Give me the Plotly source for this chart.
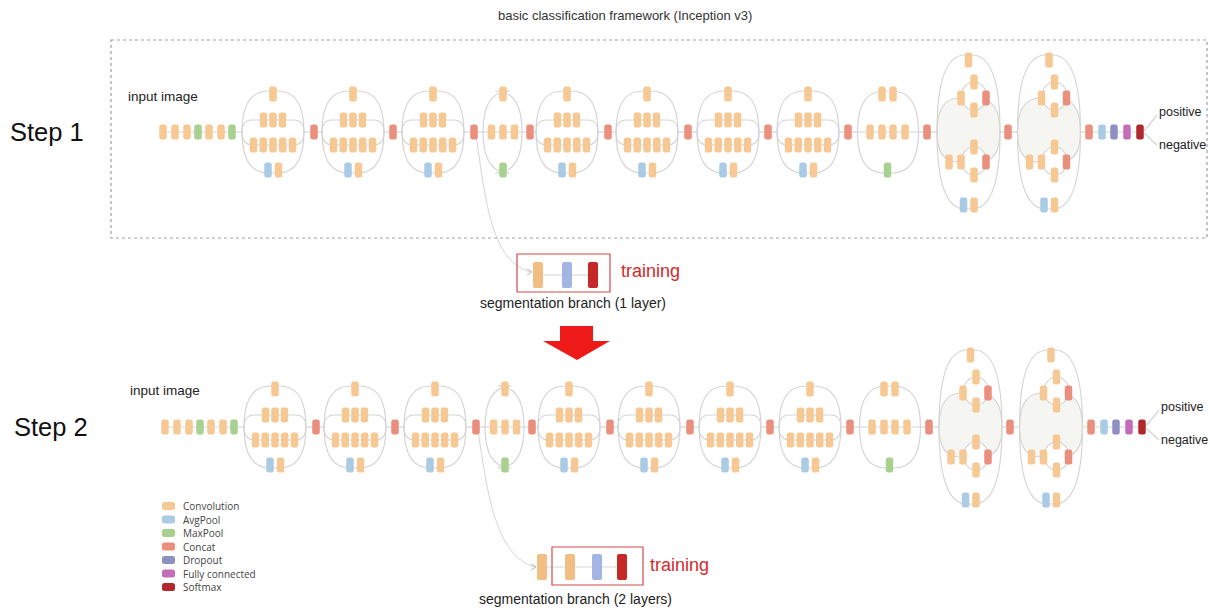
import plotly.graph_objects as go

# ---------------- data ----------------
legend_labels = ["Convolution", "AvgPool", "MaxPool", "Concat", "Dropout", "Fully connected", "Softmax"]
legend_keys = ["C", "A", "M", "K", "D", "F", "S"]
colors = {"C": "#F5C894", "A": "#A9CBE4", "M": "#A8D08F", "K": "#EA8E7D",
          "D": "#8E90C3", "F": "#C36DB9", "S": "#B0282C",
          "B": "#A3B5E2", "R": "#C62828", "O": "#F2BE84"}

input_chain = ["C", "C", "C", "M", "C", "C", "M"]
input_x = [163, 175, 187, 198, 209, 221, 232]

module_types = ["A", "A", "A", "B", "A", "A", "A", "A", "C", "D", "D"]
module_cx = [273, 353, 433, 503, 567, 647, 728, 808, 887.5, 968.5, 1049]
concat_x = [314, 393, 474, 530, 608, 688, 768, 848, 927, 1008]
final_chain = ["K", "A", "D", "F", "S"]
final_x = [1089, 1102, 1114, 1127, 1140]
outputs = ["positive", "negative"]

steps = ["Step 1", "Step 2"]
step_yc = [132, 427]
step_dx = [0, 2]

seg_branch1 = ["O", "B", "R"]
seg_branch1_x = [538, 567, 593]
seg_branch2 = ["O", "O", "B", "R"]
seg_branch2_x = [542, 570, 597, 622]

# module templates: blocks (dx, dy, kind), branch dy, left/right extent
TEMPLATES = {
    "A": dict(blocks=[(0, -38, "C"),
                      (-9.5, -12, "C"), (0, -12, "C"), (9.5, -12, "C"),
                      (-19.5, 13, "C"), (-9.75, 13, "C"), (0, 13, "C"), (9.75, 13, "C"), (19.5, 13, "C"),
                      (-5, 38, "A"), (5.5, 38, "C")],
              branches=[-41, -12, 13, 41], xl=-31, xr=31),
    "B": dict(blocks=[(0, -38, "C"), (-11.5, 0, "C"), (0, 0, "C"), (11.5, 0, "C"), (0, 38, "M")],
              branches=[-41, 0, 41], xl=-20, xr=19),
    "C": dict(blocks=[(-5.5, -38, "C"), (5.5, -38, "C"),
                      (-17.5, 0, "C"), (-5.5, 0, "C"), (5.5, 0, "C"), (17.5, 0, "C"),
                      (0, 38, "M")],
              branches=[-41, 0, 41], xl=-30, xr=31),
    "D": dict(blocks=[(0, -72, "C"),
                      (5.5, -50, "C"), (-7.5, -34, "C"), (17.5, -34, "K"), (5.5, -22, "C"),
                      (5.5, 15, "C"), (-19.5, 30, "C"), (-7.5, 30, "C"), (17.5, 30, "K"), (5.5, 43, "C"),
                      (-5, 73, "A"), (5.5, 73, "C")],
              branches=[-77, 77], xl=-31.5, xr=31.5),
}

LINE = "#D5D5D5"
shapes_lines = []
shapes_blocks = []


def rr(cx, cy, w, h, r, fill):
    x0, x1, y0, y1 = cx - w / 2, cx + w / 2, cy - h / 2, cy + h / 2
    p = (f"M{x0 + r},{y0} L{x1 - r},{y0} Q{x1},{y0} {x1},{y0 + r} L{x1},{y1 - r} "
         f"Q{x1},{y1} {x1 - r},{y1} L{x0 + r},{y1} Q{x0},{y1} {x0},{y1 - r} "
         f"L{x0},{y0 + r} Q{x0},{y0} {x0 + r},{y0} Z")
    return dict(type="path", path=p, fillcolor=fill, line=dict(width=0), layer="above")


def block(cx, cy, kind):
    shapes_blocks.append(rr(cx, cy, 7.5, 15, 2.5, colors[kind]))


def line_path(p, width=1.2, color=LINE):
    shapes_lines.append(dict(type="path", path=p, line=dict(color=color, width=width)))


def branch(xl, xr, yc, yb):
    dy = abs(yb - yc)
    if dy < 0.5:
        line_path(f"M{xl},{yc} L{xr},{yc}")
        return
    d = min(28, 0.55 * dy + 4)
    line_path(f"M{xl},{yc} Q{xl},{yb} {xl + d},{yb} L{xr - d},{yb} Q{xr},{yb} {xr},{yc}")


for si, (yc, ox) in enumerate(zip(step_yc, step_dx)):
    for k, x in zip(input_chain, input_x):
        block(x + ox, yc, k)
    prev_x = input_x[0] + ox
    for t, cx in zip(module_types, module_cx):
        tp = TEMPLATES[t]
        line_path(f"M{prev_x},{yc} L{cx + ox + tp['xl']},{yc}")
        prev_x = cx + ox + tp["xr"]
    line_path(f"M{prev_x},{yc} L{final_x[-1] + ox},{yc}")
    for t, cx in zip(module_types, module_cx):
        tp = TEMPLATES[t]
        c = cx + ox
        xl, xr = c + tp["xl"], c + tp["xr"]
        if t == "D":
            du, dl = -34, 30
            d1 = 0.55 * abs(du) + 4
            d2 = 0.55 * abs(dl) + 4
            fillp = (f"M{xl},{yc} Q{xl},{yc + du} {xl + d1},{yc + du} L{xr - d1},{yc + du} "
                     f"Q{xr},{yc + du} {xr},{yc} Q{xr},{yc + dl} {xr - d2},{yc + dl} "
                     f"L{xl + d2},{yc + dl} Q{xl},{yc + dl} {xl},{yc} Z")
            shapes_lines.append(dict(type="path", path=fillp, fillcolor="#F5F5F1",
                                     line=dict(width=0), layer="below"))
            for dv, dd, lx in [(du, d1, c - 7.5), (dl, d2, c - 19.5)]:
                line_path(f"M{xl},{yc} Q{xl},{yc + dv} {xl + dd},{yc + dv} L{max(lx, xl + dd)},{yc + dv}")
                line_path(f"M{c + 17.5},{yc + dv} L{xr - dd},{yc + dv} Q{xr},{yc + dv} {xr},{yc}")
            for ecy, ery in [(-36, 14), (29, 14)]:
                shapes_lines.append(dict(type="circle", x0=c - 7, x1=c + 18, y0=yc + ecy - ery,
                                         y1=yc + ecy + ery, fillcolor="white",
                                         line=dict(color=LINE, width=1.2)))
        for yb in tp["branches"]:
            branch(xl, xr, yc, yc + yb)
        for bx, by, k in tp["blocks"]:
            block(c + bx, yc + by, k)
    for x in concat_x:
        block(x + ox, yc, "K")
    for k, x in zip(final_chain, final_x):
        block(x + ox, yc, k)
    fx = final_x[-1] + ox + 4
    line_path(f"M{fx},{yc - 1} L{fx + 13},{yc - 17}")
    line_path(f"M{fx},{yc + 1} L{fx + 13},{yc + 13}")

# segmentation branch curves
line_path("M476,135 C486,205 492,262 531,272", width=1)
line_path("M527,269 L532,272 L527,275", width=1, color="#BBBBBB")
line_path("M478,430 C488,500 497,556 535,567", width=1)
line_path("M531,564 L536,567 L531,570", width=1, color="#BBBBBB")

# segmentation branch 1
line_path(f"M{seg_branch1_x[0]},{275} L{seg_branch1_x[-1]},{275}", width=1)
for k, x in zip(seg_branch1, seg_branch1_x):
    shapes_blocks.append(rr(x, 275, 10, 26, 2, colors[k]))
shapes_blocks.append(dict(type="rect", x0=517, x1=610, y0=254, y1=292,
                          line=dict(color="#D24A4A", width=1.2)))
# segmentation branch 2
line_path(f"M{seg_branch2_x[0]},{567} L{seg_branch2_x[-1]},{567}", width=1)
for k, x in zip(seg_branch2, seg_branch2_x):
    shapes_blocks.append(rr(x, 567, 10, 26, 2, colors[k]))
shapes_blocks.append(dict(type="rect", x0=552, x1=643, y0=547, y1=585,
                          line=dict(color="#D24A4A", width=1.2)))

# big red arrow
shapes_blocks.append(dict(type="path",
                          path="M560,326 L593,326 L593,341 L610,341 L577,360 L543,341 L560,341 Z",
                          fillcolor="#EE1A1A", line=dict(width=0)))

# frame
shapes_lines.append(dict(type="rect", x0=111, x1=1207, y0=40, y1=238,
                         line=dict(color="#A0A0A0", width=1.2, dash="dot")))

# legend
legend_y0 = 506
for i, (lab, k) in enumerate(zip(legend_labels, legend_keys)):
    y = legend_y0 + i * 13.5
    shapes_blocks.append(rr(168.5, y, 13, 8, 2.5, colors[k]))

FONT = "Liberation Sans, Arial, sans-serif"
ann = []


def text(x, y, s, size, color="#222", xanchor="left", font=FONT):
    ann.append(dict(x=x, y=y, xref="x", yref="y", text=s, showarrow=False,
                    xanchor=xanchor, yanchor="middle", font=dict(family=font, size=size, color=color)))


text(625, 15, "basic classification framework (Inception v3)", 13, "#333", "center")
for s, yc, ox in zip(steps, step_yc, step_dx):
    text(47 + ox * 2, yc, s, 25.5, "#111", "center")
    text(126 + ox, yc - 36 - (1 if ox else 0), "input image", 13.5, "#222")
    text(1157 + ox, yc - 20, outputs[0], 12.5, "#222")
    text(1157 + ox, yc + 13, outputs[1], 12.5, "#222")
text(619, 271, "training", 18, "#D42A2A")
text(573, 303, "segmentation branch (1 layer)", 14, "#222", "center")
text(648, 565, "training", 18, "#D42A2A")
text(575, 599, "segmentation branch (2 layers)", 14, "#222", "center")
for i, lab in enumerate(legend_labels):
    text(181, legend_y0 + i * 13.5, lab, 10, "#444", font="Open Sans, Liberation Sans, sans-serif")

fig = go.Figure()
fig.add_trace(go.Scatter(x=[0, 1210], y=[0, 610], mode="markers", marker=dict(opacity=0),
                         hoverinfo="skip", showlegend=False))
fig.update_layout(
    width=1210, height=610, margin=dict(l=0, r=0, t=0, b=0),
    paper_bgcolor="white", plot_bgcolor="white",
    xaxis=dict(range=[0, 1210], visible=False, fixedrange=True),
    yaxis=dict(range=[610, 0], visible=False, fixedrange=True),
    shapes=shapes_lines + shapes_blocks, annotations=ann, showlegend=False,
)
fig.write_html("out.html", config={"displayModeBar": False},
               post_script="document.body.style.margin='0';document.body.style.overflow='hidden';")
